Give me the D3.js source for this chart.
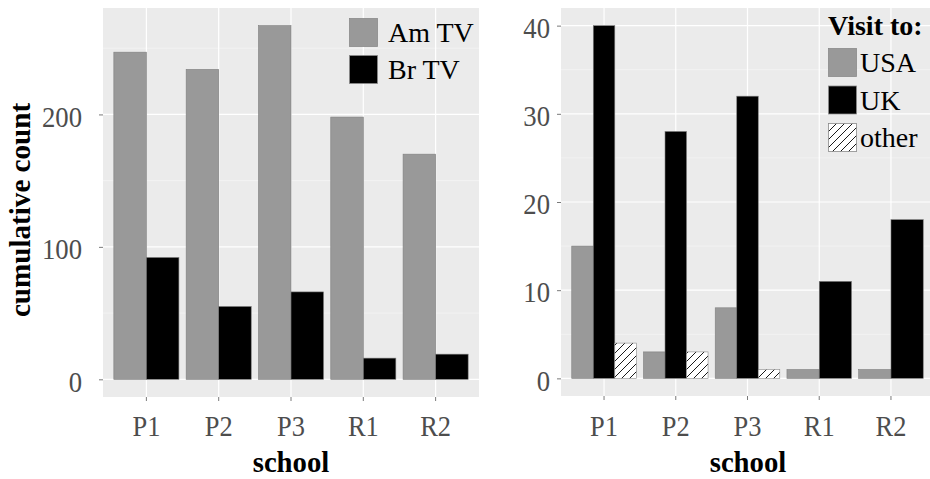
<!DOCTYPE html>
<html><head><meta charset="utf-8">
<script src="https://cdn.jsdelivr.net/npm/d3@7"></script>
<style>body{margin:0;background:#fff}svg{display:block}</style>
</head><body>
<svg id="c" width="930" height="479"></svg>
<script>
const schools = ["P1","P2","P3","R1","R2"];
const amTV = [247,234,267,198,170];
const brTV = [92,55,66,16,19];
const visitUSA = [15,3,8,1,1];
const visitUK = [40,28,32,11,18];
const visitOther = [4,3,1,null,null];
const leftTicks = [0,100,200];
const rightTicks = [0,10,20,30,40];
const leftSeries = ["Am TV","Br TV"];
const rightSeries = ["USA","UK","other"];

const svg = d3.select("#c");
const FONT = "'Liberation Serif','Times New Roman',serif";
const defs = svg.append("defs");
const pat = defs.append("pattern").attr("id","hatch").attr("patternUnits","userSpaceOnUse")
  .attr("width",8).attr("height",8);
pat.append("rect").attr("width",8).attr("height",8).attr("fill","#fff");
pat.append("path").attr("d","M-2,2L2,-2M0,8L8,0M6,10L10,6").attr("stroke","#000").attr("stroke-width",0.9);

const fills = {"Am TV":"#999999","Br TV":"#000000","USA":"#999999","UK":"#000000","other":"url(#hatch)"};

function condense(sel, f){
  sel.each(function(){
    const w = this.getComputedTextLength();
    this.setAttribute("textLength", (w*f).toFixed(2));
    this.setAttribute("lengthAdjust","spacingAndGlyphs");
  });
}

function panel(cfg){
  const g = svg.append("g");
  const unit = (cfg.x1-cfg.x0)/5.2;
  const x = d3.scaleBand().domain(schools).range([cfg.x0 + unit*0.1, cfg.x1 - unit*0.1]).paddingInner(0).paddingOuter(0);
  const y = d3.scaleLinear().domain(cfg.ydom).range([cfg.y1, cfg.y0]);
  g.append("rect").attr("x",cfg.x0).attr("y",cfg.y0).attr("width",cfg.x1-cfg.x0).attr("height",cfg.y1-cfg.y0).attr("fill","#ebebeb");
  const minors = cfg.ticks.map(v=>v+cfg.step/2).concat([cfg.ticks[0]-cfg.step/2]);
  minors.filter(v=>v>cfg.ydom[0]&&v<cfg.ydom[1]).forEach(v=>{
    g.append("line").attr("x1",cfg.x0).attr("x2",cfg.x1).attr("y1",y(v)).attr("y2",y(v)).attr("stroke","#f5f5f5").attr("stroke-width",0.8);
  });
  cfg.ticks.forEach(v=>{
    g.append("line").attr("x1",cfg.x0).attr("x2",cfg.x1).attr("y1",y(v)).attr("y2",y(v)).attr("stroke","#fff").attr("stroke-width",1.2);
  });
  schools.forEach(s=>{
    const cx = x(s)+x.bandwidth()/2;
    g.append("line").attr("x1",cx).attr("x2",cx).attr("y1",cfg.y0).attr("y2",cfg.y1).attr("stroke","#fff").attr("stroke-width",1.2);
  });
  schools.forEach((s,i)=>{
    const present = cfg.series.map((name,k)=>({name,v:cfg.values[k][i]})).filter(d=>d.v!=null);
    const total = x.bandwidth()*0.9;
    const w = total/present.length;
    const start = x(s)+x.bandwidth()*0.05;
    present.forEach((d,j)=>{
      g.append("rect").attr("x",start+j*w).attr("width",w)
        .attr("y",y(d.v)).attr("height",y(0)-y(d.v))
        .attr("fill",fills[d.name]).attr("stroke",d.name==="other"?"#8a8a8a":"#7f7f7f").attr("stroke-width",0.6);
    });
  });
  const ya = d3.axisLeft(y).tickValues(cfg.ticks).tickSize(4).tickPadding(6);
  const yg = g.append("g").attr("transform",`translate(${cfg.x0},0)`).call(ya);
  yg.select(".domain").remove();
  yg.selectAll("line").attr("stroke","#7a7a7a");
  const yt = yg.selectAll("text").attr("font-family",FONT).attr("font-size",30).attr("fill","#4d4d4d").attr("dy","0.39em").attr("x",-cfg.ylabPad);
  condense(yt, 0.89);
  const xa = d3.axisBottom(x).tickSize(4).tickPadding(7);
  const xg = g.append("g").attr("transform",`translate(0,${cfg.y1})`).call(xa);
  xg.select(".domain").remove();
  xg.selectAll("line").attr("stroke","#7a7a7a");
  const xt = xg.selectAll("text").attr("font-family",FONT).attr("font-size",30).attr("fill","#4d4d4d").attr("dy","0").attr("y",436-cfg.y1);
  condense(xt, 0.88);
  const st = g.append("text").attr("x",cfg.titleX).attr("y",472).attr("text-anchor","middle")
    .attr("font-family",FONT).attr("font-weight","bold").attr("font-size",29).text("school");
  condense(st, 0.99);
  return {x,y,g};
}

panel({x0:103,x1:479,y0:8,y1:397,ydom:[-13.35,280.35],ticks:leftTicks,step:100,
  series:leftSeries,values:[amTV,brTV],ylabPad:21,titleX:291});
panel({x0:561,x1:934,y0:8,y1:396,ydom:[-2,42],ticks:rightTicks,step:10,
  series:rightSeries,values:[visitUSA,visitUK,visitOther],ylabPad:11,titleX:748});

const yT = svg.append("text").attr("transform","translate(30,210) rotate(-90)").attr("text-anchor","middle")
  .attr("font-family",FONT).attr("font-weight","bold").attr("font-size",30).text("cumulative count");
condense(yT, 0.97);

function legend(x0,y0,dy,names,title,titleY){
  const lg = svg.append("g");
  if(title){
    lg.append("text").attr("x",x0).attr("y",titleY).attr("font-family",FONT).attr("font-weight","bold").attr("font-size",28).text(title);
  }
  names.forEach((n,i)=>{
    lg.append("rect").attr("x",x0+0.5).attr("y",y0+i*dy+0.5).attr("width",28).attr("height",28)
      .attr("fill",fills[n]).attr("stroke","#8a8a8a").attr("stroke-width",0.8);
    lg.append("text").attr("x",x0+(title?32:39)).attr("y",y0+i*dy+24).attr("font-family",FONT).attr("font-size",28).attr("fill","#000").text(n);
  });
}
legend(349,18,37,leftSeries,null);
legend(828,48,37.5,rightSeries,"Visit to:",35);
</script>
</body></html>
